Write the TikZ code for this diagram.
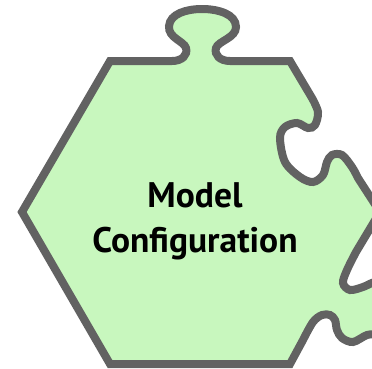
\documentclass[tikz,border=0pt]{standalone}
\usepackage{fontspec}
\setmainfont{PT Sans}
\usepackage{tikz}
\usetikzlibrary{positioning}
\definecolor{pieceFill}{HTML}{C8F7BE}
\definecolor{pieceLine}{HTML}{626262}
\tikzset {
    style piece/.style={
        fill=pieceFill,
        draw=pieceLine,
        line width=8pt,
        line join=miter,
    },
    style label/.style={
        font=\fontsize{35.5}{44}\selectfont\bfseries,
        text=black,
        inner sep=0pt,
        anchor=base,
    },
}
\begin{document}
\begin{tikzpicture}[x=1pt,y=-1pt]
\useasboundingbox (0,0) rectangle (372,368);
\clip (0,0) rectangle (372,368);

% hexagon piece with tabs and socket
\path [style piece] (110,61) -- (172,61)
  .. controls (182,61) and (188,55) .. (186,48)
  .. controls (184,41) and (168,38) .. (169,26)
  .. controls (170,14) and (186,9) .. (202,9)
  .. controls (218,9) and (236,14) .. (236,27)
  .. controls (236,38) and (218,41) .. (216,48)
  .. controls (214,55) and (220,61) .. (230,61)
  -- (290,61)
  -- plot [smooth, tension=.55] coordinates {(312,98) (318,112) (315,125) (308,128) (297,123) (285,127) (280,138) (285,162) (300,177) (313,182) (323,175) (327,162) (332,155) (342,155) (352,167) (358,178)}
  -- (380,212)
  -- plot [smooth, tension=.55] coordinates {(356,252) (347,270) (343,283) (350,290) (363,287) (375,282) (390,282) (398,300) (394,322) (380,333) (367,335) (353,342) (342,338) (337,330) (335,320) (330,315) (322,315) (313,322) (303,340)}
  -- (290,364) -- (110,364) -- (22,212) -- cycle;

\node [style label] (model) at (195,207) {Model};
\node [style label] (config) at (195,252) {Configuration};

\end{tikzpicture}
\end{document}
